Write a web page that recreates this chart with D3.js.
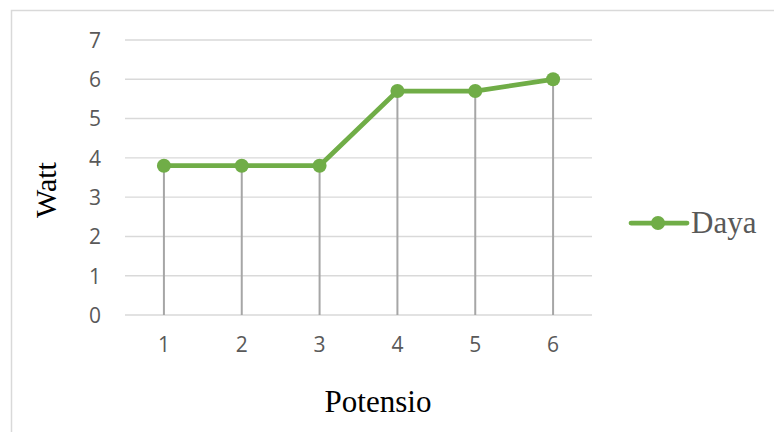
<!DOCTYPE html>
<html>
<head>
<meta charset="utf-8">
<script src="https://cdn.jsdelivr.net/npm/d3@7"></script>
<style>
  html, body { margin: 0; padding: 0; background: #fff; }
  svg { display: block; }
</style>
</head>
<body>
<svg id="chart" width="774" height="432"></svg>
<script>
// Power readings per potentiometer step
const categories = ["1", "2", "3", "4", "5", "6"];
const daya = [3.8, 3.8, 3.8, 5.7, 5.7, 6.0];
const yTicks = [0, 1, 2, 3, 4, 5, 6, 7];
const seriesName = "Daya";
const xTitle = "Potensio";
const yTitle = "Watt";

const svg = d3.select("#chart");
const green = "#70ad47";
const tickFont = "'Open Sans', sans-serif";
const serif = "'Liberation Serif', 'Times New Roman', serif";

// outer chart-area frame
svg.append("rect")
  .attr("x", 11.5).attr("y", 10.5)
  .attr("width", 900).attr("height", 600)
  .attr("fill", "#fff")
  .attr("stroke", "#d9d9d9").attr("stroke-width", 1.5);

const plot = { left: 125, right: 592, top: 40, bottom: 315 };

const x = d3.scaleBand()
  .domain(categories)
  .range([plot.left, plot.right]);

const y = d3.scaleLinear()
  .domain([0, 7])
  .range([plot.bottom, plot.top]);

// horizontal gridlines
svg.append("g")
  .selectAll("line")
  .data(yTicks)
  .join("line")
  .attr("x1", plot.left).attr("x2", plot.right)
  .attr("y1", d => y(d)).attr("y2", d => y(d))
  .attr("stroke", "#d9d9d9").attr("stroke-width", 1.4);

// y axis labels
const yAxis = d3.axisLeft(y).tickValues(yTicks).tickFormat(d3.format("d"))
  .tickSize(0).tickPadding(0);
const gy = svg.append("g")
  .attr("transform", `translate(${plot.left - 24},0)`)
  .call(yAxis);
gy.select(".domain").remove();
gy.selectAll("text")
  .attr("font-family", tickFont)
  .attr("font-size", 21)
  .attr("fill", "#595959")
  .attr("dy", "0.35em");

// x axis labels
const xAxis = d3.axisBottom(x).tickSize(0).tickPadding(0);
const gx = svg.append("g")
  .attr("transform", `translate(0,${plot.bottom + 30})`)
  .call(xAxis);
gx.select(".domain").remove();
gx.selectAll("text")
  .attr("font-family", tickFont)
  .attr("font-size", 21)
  .attr("fill", "#595959")
  .attr("y", 0)
  .attr("dy", "0.35em");

const cx = d => x(d) + x.bandwidth() / 2;
const pts = categories.map((c, i) => ({ c, v: daya[i] }));

// drop lines from each point to the baseline
svg.append("g")
  .selectAll("line")
  .data(pts)
  .join("line")
  .attr("x1", d => cx(d.c)).attr("x2", d => cx(d.c))
  .attr("y1", d => y(d.v)).attr("y2", y(0))
  .attr("stroke", "#a6a6a6").attr("stroke-width", 2);

// series line
svg.append("path")
  .datum(pts)
  .attr("fill", "none")
  .attr("stroke", green)
  .attr("stroke-width", 4.75)
  .attr("stroke-linejoin", "round")
  .attr("stroke-linecap", "round")
  .attr("d", d3.line().x(d => cx(d.c)).y(d => y(d.v)));

// markers
svg.append("g")
  .selectAll("circle")
  .data(pts)
  .join("circle")
  .attr("cx", d => cx(d.c)).attr("cy", d => y(d.v))
  .attr("r", 7)
  .attr("fill", green);

// axis titles
svg.append("text")
  .attr("transform", `translate(56,190) rotate(-90)`)
  .attr("text-anchor", "middle")
  .attr("font-family", serif)
  .attr("font-size", 30)
  .attr("fill", "#000")
  .text(yTitle);

svg.append("text")
  .attr("x", 378).attr("y", 412)
  .attr("text-anchor", "middle")
  .attr("font-family", serif)
  .attr("font-size", 31)
  .attr("fill", "#000")
  .text(xTitle);

// legend
const lg = svg.append("g").attr("transform", "translate(631,223)");
lg.append("line")
  .attr("x1", 0).attr("x2", 56).attr("y1", 0).attr("y2", 0)
  .attr("stroke", green).attr("stroke-width", 4.75)
  .attr("stroke-linecap", "round");
lg.append("circle").attr("cx", 27).attr("cy", 0).attr("r", 7).attr("fill", green);
lg.append("text")
  .attr("x", 60).attr("y", 10)
  .attr("font-family", serif)
  .attr("font-size", 31)
  .attr("fill", "#595959")
  .text(seriesName);
</script>
</body>
</html>
